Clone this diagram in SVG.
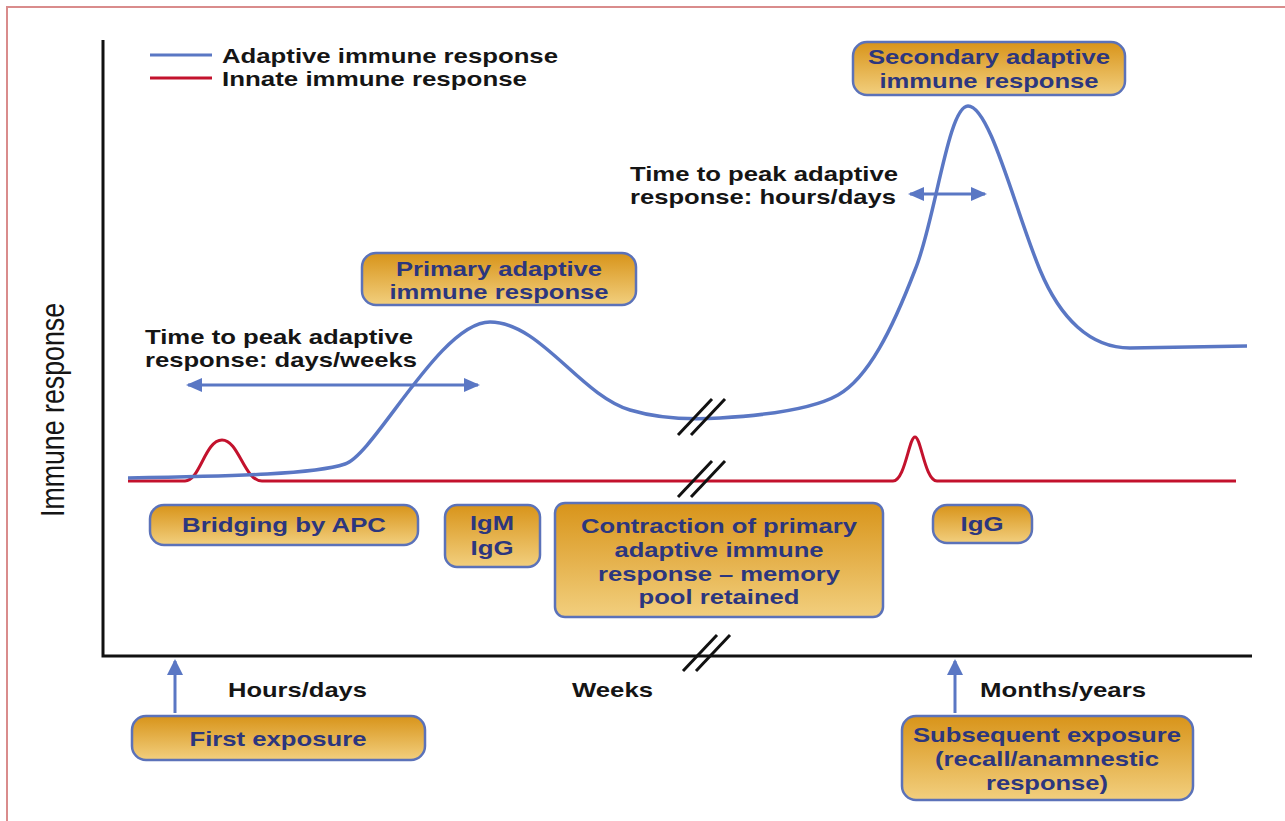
<svg xmlns="http://www.w3.org/2000/svg" width="1285" height="821" viewBox="0 0 1285 821">
<style>
.t{font-family:"Liberation Sans",Arial,sans-serif;font-weight:bold;font-size:21px;fill:#151515}
.bt{font-family:"Liberation Sans",Arial,sans-serif;font-weight:bold;font-size:21px;fill:#2C367E;text-anchor:middle}
.box{fill:url(#gold);stroke:#5B72B9;stroke-width:2.5}
.conn{stroke:#5A77C4;stroke-width:3;fill:none}
.brk{stroke:#111;stroke-width:3}
</style>
<defs>
<linearGradient id="gold" x1="0" y1="0" x2="0" y2="1">
<stop offset="0" stop-color="#D8941A"/>
<stop offset="1" stop-color="#F2CF7E"/>
</linearGradient>
<marker id="ah" viewBox="0 0 16 14" refX="14" refY="7" markerWidth="16" markerHeight="14" markerUnits="userSpaceOnUse" orient="auto-start-reverse">
<path d="M0,0 L16,7 L0,14 z" fill="#5A77C4"/>
</marker>
<marker id="up" viewBox="0 0 16 16" refX="14" refY="8" markerWidth="16" markerHeight="16" markerUnits="userSpaceOnUse" orient="auto">
<path d="M0,0 L16,8 L0,16 z" fill="#5A77C4"/>
</marker>
</defs>
<rect width="1285" height="821" fill="#fff"/>
<path d="M7,821 V7 H1285" fill="none" stroke="#D98C8C" stroke-width="2"/>

<g id="axes">
<path d="M103,40 V656 H1252" fill="none" stroke="#111" stroke-width="3"/>
<text transform="translate(64,410) rotate(-90) scale(1,1.2)" font-family="Liberation Sans, Arial, sans-serif" font-size="27" fill="#151515" text-anchor="middle" textLength="214" lengthAdjust="spacingAndGlyphs">Immune response</text>
</g>

<g id="legend">
<line x1="150" y1="55" x2="212" y2="55" stroke="#5A77C4" stroke-width="3"/>
<text class="t" x="222" y="63" textLength="336" lengthAdjust="spacingAndGlyphs">Adaptive immune response</text>
<line x1="150" y1="78" x2="212" y2="78" stroke="#C3122D" stroke-width="3"/>
<text class="t" x="222" y="86" textLength="305" lengthAdjust="spacingAndGlyphs">Innate immune response</text>
</g>

<g id="curves">
<path id="innate" d="M128,481 H185 C200,481 205,440 222,440 C239,440 244,481 262,481 H893 C905,481 909,437 915,437 C921,437 925,481 937,481 H1236" fill="none" stroke="#C3122D" stroke-width="3"/>
<path id="adaptive" d="M128,478 C240,476 315,474 345,464 C375,454 440,322 490,322 C540,322 580,395 630,410 C660,419 690,420 720,418 C770,415 815,408 838,395 C868,378 892,330 915,270 C935,222 948,106 968,106 C990,106 1015,210 1040,270 C1060,318 1090,348 1130,348 L1247,346" fill="none" stroke="#5A77C4" stroke-width="3.5"/>
</g>

<g id="breaks">
<line class="brk" x1="678" y1="435" x2="712" y2="399"/>
<line class="brk" x1="691" y1="435" x2="725" y2="399"/>
<line class="brk" x1="678" y1="497" x2="712" y2="461"/>
<line class="brk" x1="691" y1="497" x2="725" y2="461"/>
<line class="brk" x1="683" y1="671" x2="717" y2="635"/>
<line class="brk" x1="696" y1="671" x2="730" y2="635"/>
</g>

<g id="connectors">
<line class="conn" x1="188" y1="385" x2="478" y2="385" marker-start="url(#ah)" marker-end="url(#ah)"/>
<line class="conn" x1="910" y1="194" x2="985" y2="194" marker-start="url(#ah)" marker-end="url(#ah)"/>
<line class="conn" x1="175" y1="713" x2="175" y2="661" stroke-width="4" marker-end="url(#up)"/>
<line class="conn" x1="955" y1="713" x2="955" y2="661" stroke-width="4" marker-end="url(#up)"/>
</g>

<g id="secondary">
<rect class="box" x="853" y="42" width="272" height="53" rx="14"/>
<text class="bt" x="989" y="64" textLength="242" lengthAdjust="spacingAndGlyphs">Secondary adaptive</text>
<text class="bt" x="989" y="88" textLength="219" lengthAdjust="spacingAndGlyphs">immune response</text>
</g>

<g id="time-right">
<text class="t" x="630" y="181" textLength="268" lengthAdjust="spacingAndGlyphs">Time to peak adaptive</text>
<text class="t" x="630" y="204" textLength="266" lengthAdjust="spacingAndGlyphs">response: hours/days</text>
</g>

<g id="primary">
<rect class="box" x="362" y="253" width="274" height="52" rx="14"/>
<text class="bt" x="499" y="276" textLength="206" lengthAdjust="spacingAndGlyphs">Primary adaptive</text>
<text class="bt" x="499" y="299" textLength="219" lengthAdjust="spacingAndGlyphs">immune response</text>
</g>

<g id="time-left">
<text class="t" x="145" y="344" textLength="268" lengthAdjust="spacingAndGlyphs">Time to peak adaptive</text>
<text class="t" x="145" y="367" textLength="272" lengthAdjust="spacingAndGlyphs">response: days/weeks</text>
</g>

<g id="bridging">
<rect class="box" x="150" y="505" width="268" height="40" rx="14"/>
<text class="bt" x="284" y="532" textLength="204" lengthAdjust="spacingAndGlyphs">Bridging by APC</text>
</g>

<g id="igm-igg">
<rect class="box" x="445" y="505" width="95" height="62" rx="12"/>
<text class="bt" x="492" y="530" textLength="44" lengthAdjust="spacingAndGlyphs">IgM</text>
<text class="bt" x="492" y="555" textLength="43" lengthAdjust="spacingAndGlyphs">IgG</text>
</g>

<g id="contraction">
<rect class="box" x="555" y="503" width="328" height="114" rx="10"/>
<text class="bt" x="719" y="533" textLength="276" lengthAdjust="spacingAndGlyphs">Contraction of primary</text>
<text class="bt" x="719" y="557" textLength="209" lengthAdjust="spacingAndGlyphs">adaptive immune</text>
<text class="bt" x="719" y="581" textLength="242" lengthAdjust="spacingAndGlyphs">response – memory</text>
<text class="bt" x="719" y="604" textLength="161" lengthAdjust="spacingAndGlyphs">pool retained</text>
</g>

<g id="igg2">
<rect class="box" x="933" y="505" width="99" height="38" rx="14"/>
<text class="bt" x="982" y="531" textLength="43" lengthAdjust="spacingAndGlyphs">IgG</text>
</g>

<g id="time-labels">
<text class="t" x="228" y="697" textLength="139" lengthAdjust="spacingAndGlyphs">Hours/days</text>
<text class="t" x="572" y="697" textLength="81" lengthAdjust="spacingAndGlyphs">Weeks</text>
<text class="t" x="980" y="697" textLength="166" lengthAdjust="spacingAndGlyphs">Months/years</text>
</g>

<g id="first-exposure">
<rect class="box" x="132" y="716" width="293" height="44" rx="14"/>
<text class="bt" x="278" y="746" textLength="177" lengthAdjust="spacingAndGlyphs">First exposure</text>
</g>

<g id="subsequent-exposure">
<rect class="box" x="902" y="716" width="291" height="84" rx="14"/>
<text class="bt" x="1047" y="742" textLength="268" lengthAdjust="spacingAndGlyphs">Subsequent exposure</text>
<text class="bt" x="1047" y="766" textLength="224" lengthAdjust="spacingAndGlyphs">(recall/anamnestic</text>
<text class="bt" x="1047" y="790" textLength="122" lengthAdjust="spacingAndGlyphs">response)</text>
</g>
</svg>
